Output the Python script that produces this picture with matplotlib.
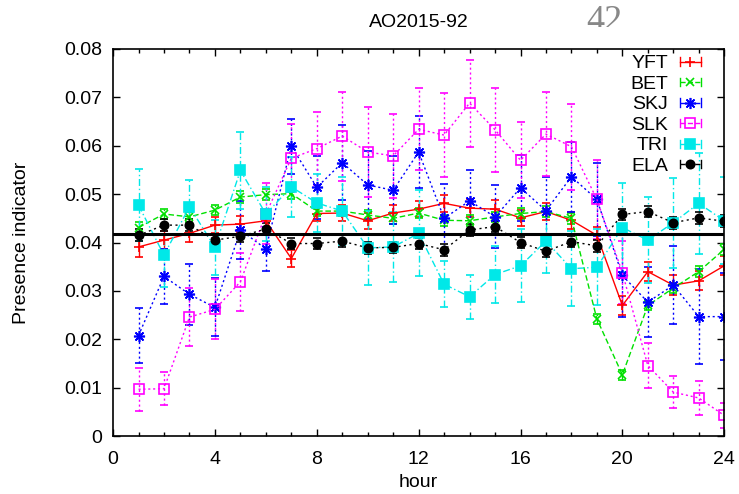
import numpy as np
import matplotlib
matplotlib.use("Agg")
from matplotlib import pyplot as plt
from matplotlib.lines import Line2D
from matplotlib.legend_handler import HandlerBase
from matplotlib.transforms import Bbox, TransformedBbox

plt.rcParams['font.family'] = ['Liberation Sans', 'DejaVu Sans']
plt.rcParams['font.size'] = 14

hours = np.arange(1, 25)

yft = [0.0391, 0.0405, 0.0419, 0.0436, 0.0438, 0.0445, 0.0367, 0.0460, 0.0461, 0.0445, 0.0461, 0.0469,
       0.0481, 0.0471, 0.0469, 0.0451, 0.0464, 0.0446, 0.0415, 0.0270, 0.0340, 0.0312, 0.0321, 0.0352]
yft_err = [0.0020, 0.0018, 0.0017, 0.0017, 0.0017, 0.0017, 0.0017, 0.0016, 0.0016, 0.0016, 0.0016, 0.0017,
           0.0018, 0.0018, 0.0019, 0.0017, 0.0017, 0.0018, 0.0018, 0.0020, 0.0020, 0.0020, 0.0020, 0.0020]

bet = [0.0431, 0.0459, 0.0453, 0.0467, 0.0494, 0.0499, 0.0501, 0.0465, 0.0465, 0.0457, 0.0450, 0.0461,
       0.0446, 0.0445, 0.0453, 0.0460, 0.0464, 0.0450, 0.0242, 0.0127, 0.0270, 0.0306, 0.0340, 0.0386]
bet_err = [0.0012, 0.0011, 0.0011, 0.0011, 0.0012, 0.0012, 0.0012, 0.0011, 0.0011, 0.0011, 0.0011, 0.0011,
           0.0011, 0.0011, 0.0011, 0.0011, 0.0011, 0.0011, 0.0010, 0.0010, 0.0010, 0.0010, 0.0011, 0.0011]

skj = [0.0208, 0.0330, 0.0293, 0.0266, 0.0426, 0.0387, 0.0599, 0.0514, 0.0565, 0.0519, 0.0508, 0.0587,
       0.0450, 0.0486, 0.0453, 0.0513, 0.0466, 0.0536, 0.0489, 0.0332, 0.0277, 0.0312, 0.0247, 0.0247]
skj_err = [0.0057, 0.0057, 0.0063, 0.0060, 0.0060, 0.0045, 0.0057, 0.0065, 0.0077, 0.0070, 0.0070, 0.0075,
           0.0070, 0.0064, 0.0065, 0.0068, 0.0070, 0.0072, 0.0075, 0.0085, 0.0073, 0.0080, 0.0098, 0.0090]

slk = [0.0097, 0.0098, 0.0246, 0.0262, 0.0319, 0.0459, 0.0574, 0.0594, 0.0620, 0.0587, 0.0579, 0.0634,
       0.0622, 0.0688, 0.0633, 0.0570, 0.0624, 0.0598, 0.0489, 0.0338, 0.0146, 0.0091, 0.0079, 0.0043]
slk_err = [0.0044, 0.0034, 0.0060, 0.0062, 0.0060, 0.0063, 0.0070, 0.0076, 0.0092, 0.0093, 0.0087, 0.0085,
           0.0086, 0.0090, 0.0087, 0.0079, 0.0086, 0.0089, 0.0081, 0.0065, 0.0046, 0.0033, 0.0035, 0.0026]

tri = [0.0477, 0.0374, 0.0474, 0.0390, 0.0549, 0.0459, 0.0515, 0.0482, 0.0465, 0.0389, 0.0391, 0.0419,
       0.0314, 0.0288, 0.0334, 0.0352, 0.0403, 0.0346, 0.0349, 0.0431, 0.0405, 0.0441, 0.0481, 0.0445]
tri_err = [0.0074, 0.0065, 0.0055, 0.0057, 0.0079, 0.0055, 0.0062, 0.0060, 0.0070, 0.0077, 0.0072, 0.0089,
           0.0048, 0.0045, 0.0058, 0.0075, 0.0065, 0.0077, 0.0079, 0.0091, 0.0089, 0.0093, 0.0104, 0.0090]

ela = [0.0415, 0.0436, 0.0436, 0.0405, 0.0413, 0.0428, 0.0398, 0.0398, 0.0403, 0.0389, 0.0390, 0.0398,
       0.0385, 0.0426, 0.0433, 0.0400, 0.0382, 0.0402, 0.0393, 0.0458, 0.0464, 0.0441, 0.0451, 0.0444]
ela_err = [0.0012] * 24

uniform = 1.0 / 24  # presence if evenly spread over the day

species = [
    # name, values, errors, color, linestyle, marker, marker size, filled
    ("YFT", yft, yft_err, "#ff0000", "-", "+", 7, True),
    ("BET", bet, bet_err, "#00e000", (0, (4, 2)), "x", 6, True),
    ("SKJ", skj, skj_err, "#0000ff", (0, (1.5, 2)), (8, 2, 0), 8, True),
    ("SLK", slk, slk_err, "#ff00ff", (0, (1.5, 2)), "s", 6.5, False),
    ("TRI", tri, tri_err, "#00e8e8", (0, (5, 2, 1, 2)), "s", 6.5, True),
    ("ELA", ela, ela_err, "#000000", (0, (1.5, 2.5)), "o", 6, True),
]


class GnuKey(HandlerBase):
    # key sample: line with end caps and the point symbol in the middle
    def create_artists(self, legend, orig, xd, yd, w, h, fontsize, trans):
        y = yd + h / 2
        c = h * 0.3
        line = Line2D([xd, xd + w], [y, y], color=orig.get_color(),
                      linestyle=orig.get_linestyle(), lw=orig.get_linewidth())
        caps = Line2D([xd, xd, np.nan, xd + w, xd + w], [y - c, y + c, np.nan, y - c, y + c],
                      color=orig.get_color(), lw=1.0)
        mark = Line2D([xd + w / 2], [y])
        mark.update_from(orig)
        mark.set_linestyle("none")
        for a in (line, caps, mark):
            a.set_transform(trans)
        return [line, caps, mark]


fig = plt.figure(figsize=(7.39, 4.94), dpi=100)
ax = fig.add_axes([0.153, 0.117, 0.827, 0.784])

handles = []
for name, vals, err, col, ls, mk, ms, filled in species:
    eb = ax.errorbar(hours, vals, yerr=err, color=col, ls=ls, lw=1.0, marker=mk, ms=ms,
                     mfc=col if filled else "none", mec=col, mew=1.2,
                     elinewidth=1.0, capsize=3, capthick=1.0, label=name)
    eb[2][0].set_linestyle(ls)
    handles.append(eb[0])

ax.axhline(uniform, color="black", lw=2.2, zorder=5)

ax.set_xlim(0, 24)
ax.set_ylim(0, 0.08)
ax.set_xticks(np.arange(0, 25, 4))
ax.set_xticks(np.arange(0, 25, 1), minor=True)
ax.set_yticks(np.arange(0, 0.081, 0.01))
ax.set_yticklabels(["0", "0.01", "0.02", "0.03", "0.04", "0.05", "0.06", "0.07", "0.08"])
ax.tick_params(which="both", direction="in", top=True, right=True, width=1.0)
ax.tick_params(which="major", length=5, pad=8)
ax.tick_params(axis="x", which="major", pad=11)
ax.tick_params(which="minor", length=3)
for s in ax.spines.values():
    s.set_linewidth(1.2)

ax.set_xlabel("hour", labelpad=4)
ax.set_ylabel("Presence indicator", labelpad=24)
ax.set_title("AO2015-92", fontsize=14, pad=16)

ax.legend(handles, [s[0] for s in species], handler_map={Line2D: GnuKey()},
          loc="upper right", bbox_to_anchor=(0.962, 0.985), markerfirst=False, frameon=False,
          borderaxespad=0, borderpad=0, handlelength=1.1, handletextpad=0.6,
          labelspacing=0.15, fontsize=14)

# page number peeking in at the top edge
num = fig.text(0.818, 0.99, "42", ha="center", va="top", fontsize=26,
               family="Liberation Serif", color="#888888")
num.set_clip_box(TransformedBbox(Bbox([[0.7, 0.946], [0.95, 1.0]]), fig.transFigure))
num.set_clip_on(True)

fig.savefig("out.png", dpi=100)
